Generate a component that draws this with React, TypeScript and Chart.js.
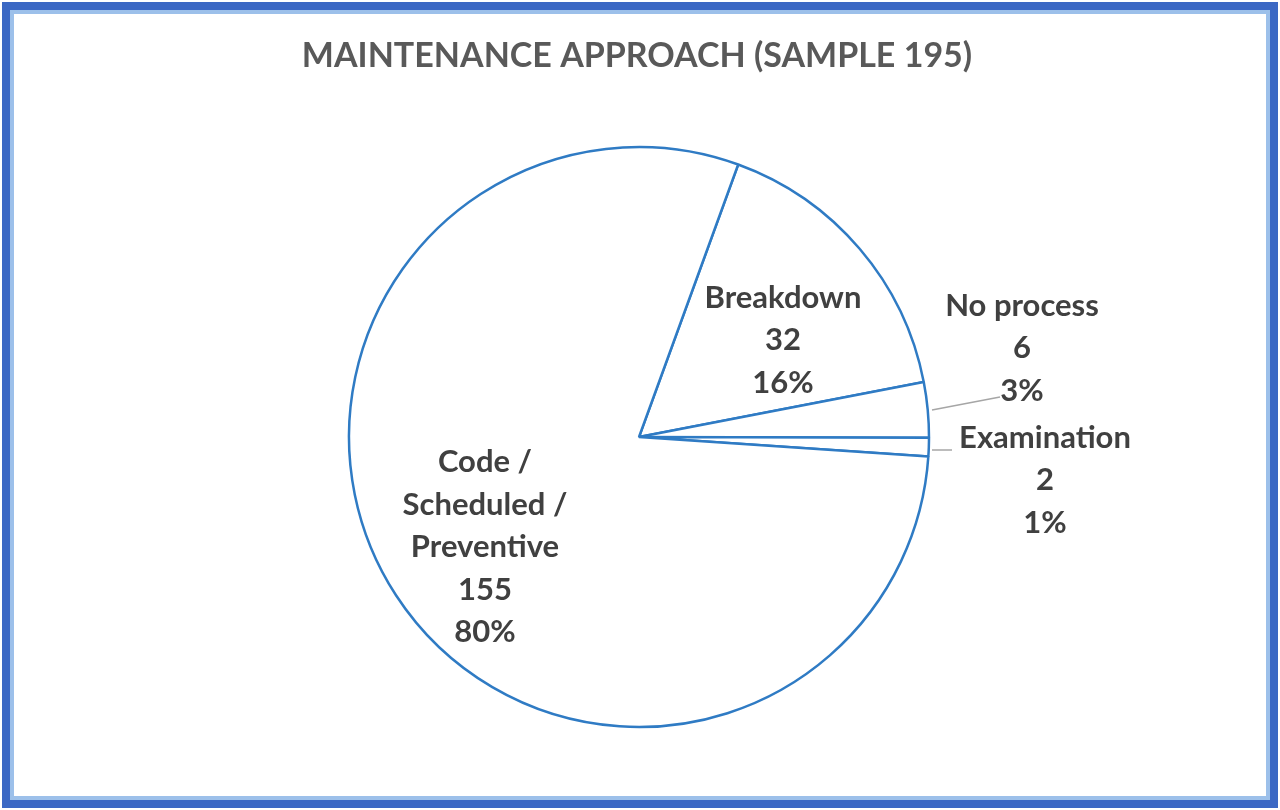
import React, { useEffect, useRef } from "react";
import { Chart, registerables } from "chart.js";

Chart.register(...registerables);

const TITLE = "MAINTENANCE APPROACH (SAMPLE 195)";
const categories = ["Breakdown", "No process", "Examination", "Code / Scheduled / Preventive"];
const labelLines = [["Breakdown"], ["No process"], ["Examination"], ["Code /", "Scheduled /", "Preventive"]];
const counts = [32, 6, 2, 155];
const percents = ["16%", "3%", "1%", "80%"];

// label centre offsets from the pie centre (layout only)
const labelOffsets = [
  { dx: 144, dy: -97 },
  { dx: 383, dy: -89 },
  { dx: 406, dy: 43 },
  { dx: -154, dy: 110 },
];
const leaderLines = [null, { x1: 932, y1: 410, x2: 1000, y2: 397 }, { x1: 932, y1: 450, x2: 952, y2: 450 }, null];

const FONT = "Lato, 'Open Sans', sans-serif";
const LINE_H = 42.5;

const framePlugin = {
  id: "frame",
  beforeDraw(chart: any) {
    const ctx = chart.ctx;
    ctx.save();
    ctx.fillStyle = "#ffffff";
    ctx.fillRect(0, 0, chart.width, chart.height);
    ctx.restore();
  },
  afterDraw(chart: any) {
    const ctx = chart.ctx;
    const w = chart.width;
    const h = chart.height;
    ctx.save();
    ctx.strokeStyle = "#9cc0ea";
    ctx.lineWidth = 4;
    ctx.strokeRect(12, 12, w - 24, h - 24);
    ctx.strokeStyle = "#3b68c4";
    ctx.lineWidth = 8;
    ctx.strokeRect(6, 6, w - 12, h - 12);
    // title
    ctx.fillStyle = "#595959";
    ctx.font = `bold 34px ${FONT}`;
    ctx.textAlign = "center";
    ctx.textBaseline = "middle";
    ctx.fillText(TITLE, 637, 56);
    // labels
    const meta = chart.getDatasetMeta(0);
    meta.data.forEach((arc: any, i: number) => {
      const { x, y } = arc.getProps(["x", "y"], true);
      const lines = [...labelLines[i], String(counts[i]), percents[i]];
      const cx = x + labelOffsets[i].dx;
      const cy = y + labelOffsets[i].dy;
      const ll = leaderLines[i];
      if (ll) {
        ctx.strokeStyle = "#a6a6a6";
        ctx.lineWidth = 1.5;
        ctx.beginPath();
        ctx.moveTo(ll.x1, ll.y1);
        ctx.lineTo(ll.x2, ll.y2);
        ctx.stroke();
      }
      ctx.fillStyle = "#404040";
      ctx.font = `bold 31px ${FONT}`;
      const top = cy - ((lines.length - 1) * LINE_H) / 2;
      lines.forEach((t, k) => ctx.fillText(t, cx, top + k * LINE_H));
    });
    ctx.restore();
  },
};

export default function App() {
  const ref = useRef<HTMLCanvasElement>(null);
  useEffect(() => {
    if (!ref.current) return;
    const chart = new Chart(ref.current, {
      type: "pie",
      data: {
        labels: categories,
        datasets: [
          {
            data: counts,
            backgroundColor: "#ffffff",
            borderColor: "#2f7bc4",
            borderWidth: 2.5,
          },
        ],
      },
      options: {
        responsive: false,
        animation: false,
        rotation: 20,
        radius: 290,
        layout: { padding: { left: 0, right: 2, top: 64, bottom: 0 } },
        plugins: {
          legend: { display: false },
          title: { display: false },
          tooltip: { enabled: false },
        },
      },
      plugins: [framePlugin],
    });
    return () => chart.destroy();
  }, []);
  return (
    <div style={{ position: "fixed", left: 0, top: 0, width: 1280, height: 810, background: "#fff" }}>
      <canvas ref={ref} width={1280} height={810} style={{ display: "block" }} />
    </div>
  );
}
